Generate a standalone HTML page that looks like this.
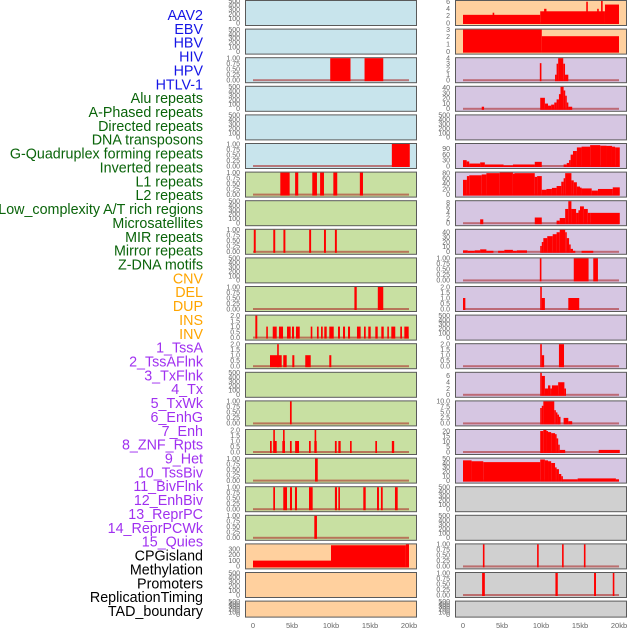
<!DOCTYPE html>
<html><head><meta charset="utf-8">
<style>
html,body{margin:0;padding:0;background:#fff;}
svg{display:block;font-family:"Liberation Sans",sans-serif;}
</style></head>
<body>
<svg id="chart" width="630" height="630" viewBox="0 0 630 630" xmlns="http://www.w3.org/2000/svg"></svg>
<script>
// ---- labels ----
const trackLabels = ["AAV2","EBV","HBV","HIV","HPV","HTLV-1","Alu repeats","A-Phased repeats","Directed repeats","DNA transposons","G-Quadruplex forming repeats","Inverted repeats","L1 repeats","L2 repeats","Low_complexity A/T rich regions","Microsatellites","MIR repeats","Mirror repeats","Z-DNA motifs","CNV","DEL","DUP","INS","INV","1_TssA","2_TssAFlnk","3_TxFlnk","4_Tx","5_TxWk","6_EnhG","7_Enh","8_ZNF_Rpts","9_Het","10_TssBiv","11_BivFlnk","12_EnhBiv","13_ReprPC","14_ReprPCWk","15_Quies","CPGisland","Methylation","Promoters","ReplicationTiming","TAD_boundary"];
const labelColors = ["#1515e6","#1515e6","#1515e6","#1515e6","#1515e6","#1515e6","#0a640a","#0a640a","#0a640a","#0a640a","#0a640a","#0a640a","#0a640a","#0a640a","#0a640a","#0a640a","#0a640a","#0a640a","#0a640a","#ffa500","#ffa500","#ffa500","#ffa500","#ffa500","#a030f0","#a030f0","#a030f0","#a030f0","#a030f0","#a030f0","#a030f0","#a030f0","#a030f0","#a030f0","#a030f0","#a030f0","#a030f0","#a030f0","#a030f0","#000","#000","#000","#000","#000"];
const xTickValues = [0,5,10,15,20];
const xTickLabels = ["0","5kb","10kb","15kb","20kb"];

// ---- tick sets ----
const ticksEmpty = [0,100,200,300,400,500];
const ticksUnit = [0,0.25,0.5,0.75,1];
const ticksTwo = [0,0.5,1,1.5,2];

// ---- bar data: [startKb, endKb, value] ----
const barsL2 = [[9.9,12.5,1],[14.3,16.7,1]];
const barsL5 = [[17.8,20.1,1]];
const barsL6 = [[3.5,4.7,1],[5.4,5.8,1],[7.6,8.2,1],[8.6,9.1,1],[10.3,10.8,1],[13.7,14.1,1]];
const barsL8 = [[0.1,0.35,1],[2.6,2.85,1],[3.9,4.15,1],[7.2,7.45,1],[9.1,9.35,1],[10.5,10.75,1]];
const barsL10 = [[13.0,13.3,1],[16.0,16.7,1]];
const barsL11 = [[0.3,0.55,2],[1.7,1.9,1],[2.53,3.04,1],[3.33,3.85,1],[4.36,4.83,1],[5.0,5.26,1],[5.51,5.99,1],[7.4,7.6,1],[8.2,8.42,1],[8.72,8.94,1],[9.14,9.45,1],[9.78,10.35,1],[10.9,11.15,1],[11.54,11.8,1],[12.18,12.44,1],[13.33,13.8,1],[14.23,14.45,1],[14.78,15.09,1],[15.68,15.99,1],[16.45,16.76,1],[17.22,17.4,1],[17.73,18.24,1],[18.88,19.1,1],[19.4,19.96,1]];
const barsL12 = [[2.18,3.68,1],[3.1,3.3,2],[3.88,4.32,1],[5.04,5.3,1],[6.7,7.4,1],[9.78,10.04,1]];
const barsL14 = [[4.74,4.96,1]];
const barsL15 = [[2.18,2.4,1],[2.6,3.04,1],[2.6,2.8,2],[3.76,4.1,1],[3.85,4.0,2],[4.74,4.96,1],[5.4,5.9,1],[7.18,7.4,1],[7.86,8.17,1],[7.9,8.05,2],[10.5,10.73,1],[10.94,11.24,1],[12.44,12.65,1],[15.68,15.9,1],[17.8,18.1,1]];
const barsL16 = [[7.95,8.3,1]];
const barsL17 = [[2.6,2.82,1],[3.88,4.36,1],[4.74,5.0,1],[5.38,5.64,1],[7.18,7.65,1],[10.5,10.77,1],[10.94,11.15,1],[14.14,14.45,1],[15.9,16.15,1],[16.4,16.63,1],[18.2,18.55,1]];
const barsL18 = [[7.86,8.2,1]];
const barsL19 = [[0,10,100],[10,19.6,365],[19.6,20,380]];

const barsR0 = [[0,9.9,2.3],[3.8,4.0,2.9],[9.9,18.2,3.3],[10.4,10.7,4],[15.8,16.0,6],[17.2,17.4,4],[17.7,17.9,6.2],[18.2,20,5.2]];
const barsR1 = [[0,10.1,3],[10.1,20,2.1]];
const barsR2 = [[9.85,10.05,3.1],[11.8,12.0,1],[12.0,12.2,3],[12.2,12.85,4],[12.85,13.08,3],[13.08,13.5,1]];
const barsR3 = [[2.4,2.7,4],[9.9,10.5,21],[10.5,10.9,10],[10.9,11.3,6],[11.3,11.7,8],[11.7,12.0,12],[12.0,12.3,18],[12.3,12.5,28],[12.5,12.9,42],[12.9,13.1,35],[13.1,13.3,25],[13.3,13.5,12],[13.5,14.0,4]];
const barsR5 = [[0,0.47,31],[0.47,0.8,24],[0.8,2.2,13],[2.2,2.8,19],[2.8,5.2,8],[5.2,6.4,3],[6.4,9.2,8],[9.2,10.1,22],[12.9,13.3,8],[13.3,13.6,16],[13.6,13.8,31],[13.8,14.1,60],[14.1,14.6,79],[14.6,15.2,98],[15.2,16.3,102],[16.3,17.6,110],[17.6,18.4,107],[18.4,19.1,106],[19.1,19.5,102],[19.5,20.1,98]];
const barsR6 = [[0,0.5,55],[0.5,0.8,69],[0.8,2.4,72],[2.4,3.0,75],[3.0,4.7,80],[4.7,6.4,82],[6.4,6.6,78],[6.6,9.2,80],[9.2,9.5,66],[9.5,10.1,69],[10.1,10.7,18],[10.7,11.4,21],[11.4,12.0,25],[12.0,12.6,32],[12.6,12.9,48],[12.9,13.1,61],[13.1,13.9,80],[13.9,14.2,53],[14.2,14.6,46],[14.6,15.0,30],[15.0,15.2,26],[15.2,16.5,23],[16.5,17.3,15],[17.3,19.2,21],[19.2,20.1,27]];
const barsR7 = [[2.2,2.6,1.5],[9.2,10.1,2.2],[12.0,12.4,1],[12.4,13.1,2],[13.1,13.5,5.5],[13.5,13.9,8.5],[13.9,14.5,5.5],[14.5,14.8,4],[14.8,15.0,5],[15.0,15.5,6.5],[15.5,16.0,5.5],[16.0,16.3,4],[16.3,20.1,4]];
const barsR8 = [[0,0.6,3],[0.6,1.5,2],[1.5,2.2,3],[2.2,3.0,5],[3.0,3.9,2],[4.5,5.3,2],[5.3,6.4,4],[6.4,6.9,2],[6.9,8.2,3],[9.9,10.1,12],[10.1,10.3,20],[10.3,10.8,28],[10.8,11.5,32],[11.5,12.0,36],[12.0,12.4,40],[12.4,13.1,45],[13.1,13.3,40],[13.3,13.6,28],[13.6,13.8,15],[13.8,14.1,6],[14.1,14.4,2],[15.2,16.7,2]];
const barsR9 = [[9.85,10.05,1],[14.2,16.1,1],[16.7,17.3,1]];
const barsR10 = [[0,0.3,1],[9.9,10.1,2],[10.1,10.5,1],[13.5,14.9,1]];
const barsR12 = [[9.9,10.1,2],[10.1,10.4,1],[12.3,12.95,2]];
const barsR13 = [[9.9,10.1,7],[10.1,10.5,6],[10.5,10.9,2],[10.9,11.2,3],[11.2,11.4,2],[11.4,12.2,3],[12.2,13.0,4],[13.0,13.2,2]];
const barsR14 = [[9.9,10.1,7],[10.1,10.3,8],[10.3,11.7,10],[11.7,11.9,6],[11.9,12.1,5],[12.1,12.2,4],[12.2,12.5,3],[12.9,13.5,2.5],[13.5,14.0,1]];
const barsR15 = [[9.9,10.3,20],[10.3,10.7,21],[10.7,10.8,20],[10.8,11.3,19],[11.3,11.8,18],[11.8,12.0,17],[12.0,12.2,13],[12.2,12.4,7],[12.4,13.1,2],[17.4,20.1,2]];
const barsR16 = [[0,1.1,46],[1.1,2.6,44],[2.6,9.9,42],[9.9,10.5,48],[10.5,10.9,46],[10.9,11.3,44],[11.3,11.8,40],[11.8,12.0,30],[12.0,12.3,26],[12.3,12.6,15],[12.6,12.7,10],[12.7,14.7,3],[14.7,19.6,5],[19.6,20,3]];
const barsR19 = [[2.55,2.75,1],[9.5,9.7,1],[12.7,12.9,1],[15.5,15.7,1]];
const barsR20 = [[2.45,2.8,1],[11.85,12.15,1],[16.8,17.05,1],[19.2,19.4,1]];

const BLUE="#c8e4ec", GREEN="#c8e0a2", ORANGE="#ffd09e", PURPLE="#d6c6e2", GRAY="#d0d0d0";

const panels = [
 [0,0,BLUE,null,ticksEmpty,500],[0,1,BLUE,null,ticksEmpty,500],[0,2,BLUE,barsL2,ticksUnit,1],
 [0,3,BLUE,null,ticksEmpty,500],[0,4,BLUE,null,ticksEmpty,500],[0,5,BLUE,barsL5,ticksUnit,1],
 [0,6,GREEN,barsL6,ticksUnit,1],[0,7,GREEN,null,ticksEmpty,500],[0,8,GREEN,barsL8,ticksUnit,1],
 [0,9,GREEN,null,ticksEmpty,500],[0,10,GREEN,barsL10,ticksUnit,1],[0,11,GREEN,barsL11,ticksTwo,2],
 [0,12,GREEN,barsL12,ticksTwo,2],[0,13,GREEN,null,ticksEmpty,500],[0,14,GREEN,barsL14,ticksUnit,1],
 [0,15,GREEN,barsL15,ticksTwo,2],[0,16,GREEN,barsL16,ticksUnit,1],[0,17,GREEN,barsL17,ticksUnit,1],
 [0,18,GREEN,barsL18,ticksUnit,1],[0,19,ORANGE,barsL19,[0,100,200,300],380],[0,20,ORANGE,null,ticksEmpty,500],
 [0,21,ORANGE,null,ticksEmpty,500],
 [1,0,ORANGE,barsR0,[0,2,4,6],6.2],[1,1,ORANGE,barsR1,[0,1,2,3],3],[1,2,PURPLE,barsR2,[0,1,2,3,4],4],
 [1,3,PURPLE,barsR3,[0,10,20,30,40],42],[1,4,PURPLE,null,ticksEmpty,500],[1,5,PURPLE,barsR5,[0,30,60,90],116],
 [1,6,PURPLE,barsR6,[0,20,40,60,80],82],[1,7,PURPLE,barsR7,[0,2,4,6,8],8.5],[1,8,PURPLE,barsR8,[0,10,20,30,40],45],
 [1,9,PURPLE,barsR9,ticksUnit,1],[1,10,PURPLE,barsR10,ticksTwo,2],[1,11,PURPLE,null,ticksEmpty,500],
 [1,12,PURPLE,barsR12,ticksTwo,2],[1,13,PURPLE,barsR13,[0,2,4,6],7],[1,14,PURPLE,barsR14,[0,2.5,5,7.5,10],10],
 [1,15,PURPLE,barsR15,[0,5,10,15,20],21],[1,16,PURPLE,barsR16,[0,10,20,30,40,50],50],
 [1,17,GRAY,null,ticksEmpty,500],[1,18,GRAY,null,ticksEmpty,500],[1,19,GRAY,barsR19,ticksUnit,1],
 [1,20,GRAY,barsR20,ticksUnit,1],[1,21,GRAY,null,ticksEmpty,500]
];

const NS="http://www.w3.org/2000/svg";
const svg=document.getElementById("chart");
function mk(tag,attrs,parent){const e=document.createElementNS(NS,tag);for(const k in attrs)e.setAttribute(k,attrs[k]);(parent||svg).appendChild(e);return e;}
const colLeft=[245,455], colData0=[253,463], kbPx=7.8;
function xScale(col,kb){return colData0[col]+kb*kbPx;}
function rowTop(r){return r*28.6;}
function rowH(r){return r===21?16:25;}
function fmt(v,ticks){const d=ticks.includes(0.25)?2:(ticks.some(t=>t%1!==0)?1:0);return v.toFixed(d);}

trackLabels.forEach((t,i)=>{
  const el=mk("text",{x:203,y:15+13.86*i+5,"text-anchor":"end","font-size":"14.3",fill:labelColors[i]});
  el.textContent=t;
  
  
});

panels.forEach((p,pi)=>{
  const [col,row,bg,bars,ticks,ymax]=p;
  const top=rowTop(row), h=rowH(row), left=colLeft[col];
  const g=mk("g",{});
  
  
  const cid="clip"+pi;
  const cp=mk("clipPath",{id:cid},g); mk("rect",{x:left,y:top,width:171,height:h},cp);
  const bgr=mk("rect",{x:left+0.5,y:top+0.5,width:171,height:h,fill:bg,stroke:"#5a5a5a","stroke-width":"1"},g);
  
  
  const y0=top+h-2, y1=top+1;
  const yS=v=>y0-(v/ymax)*(y0-y1);
  ticks.forEach(t=>{
    const tt=mk("text",{x:col?450:240,y:yS(t)+2.3,"text-anchor":"end","font-size":"7",fill:"#666"},g);
    tt.textContent=fmt(t,ticks);
    
    
  });
  if(bars){
    const bl=mk("rect",{x:xScale(col,0),y:y0-1,width:20*kbPx,height:2,fill:"rgba(170,30,30,0.55)"},g);
    
    
    const bg2=mk("g",{"clip-path":`url(#${cid})`},g);
    bars.forEach(b=>{
      const xa=xScale(col,b[0]), xb=xScale(col,b[1]);
      const yt=Math.max(yS(b[2]),top);
      const r=mk("rect",{x:xa,y:yt,width:Math.max(xb-xa,1.6),height:y0+1-yt,fill:"#ff0000"},bg2);
      
      
    });
  }
});

[0,1].forEach(col=>{
  xTickValues.forEach((v,i)=>{
    const t=mk("text",{x:xScale(col,v),y:628,"text-anchor":"middle","font-size":"7.5",fill:"#666"});
    t.textContent=xTickLabels[i];
    
    
  });
});
</script>
</body></html>
